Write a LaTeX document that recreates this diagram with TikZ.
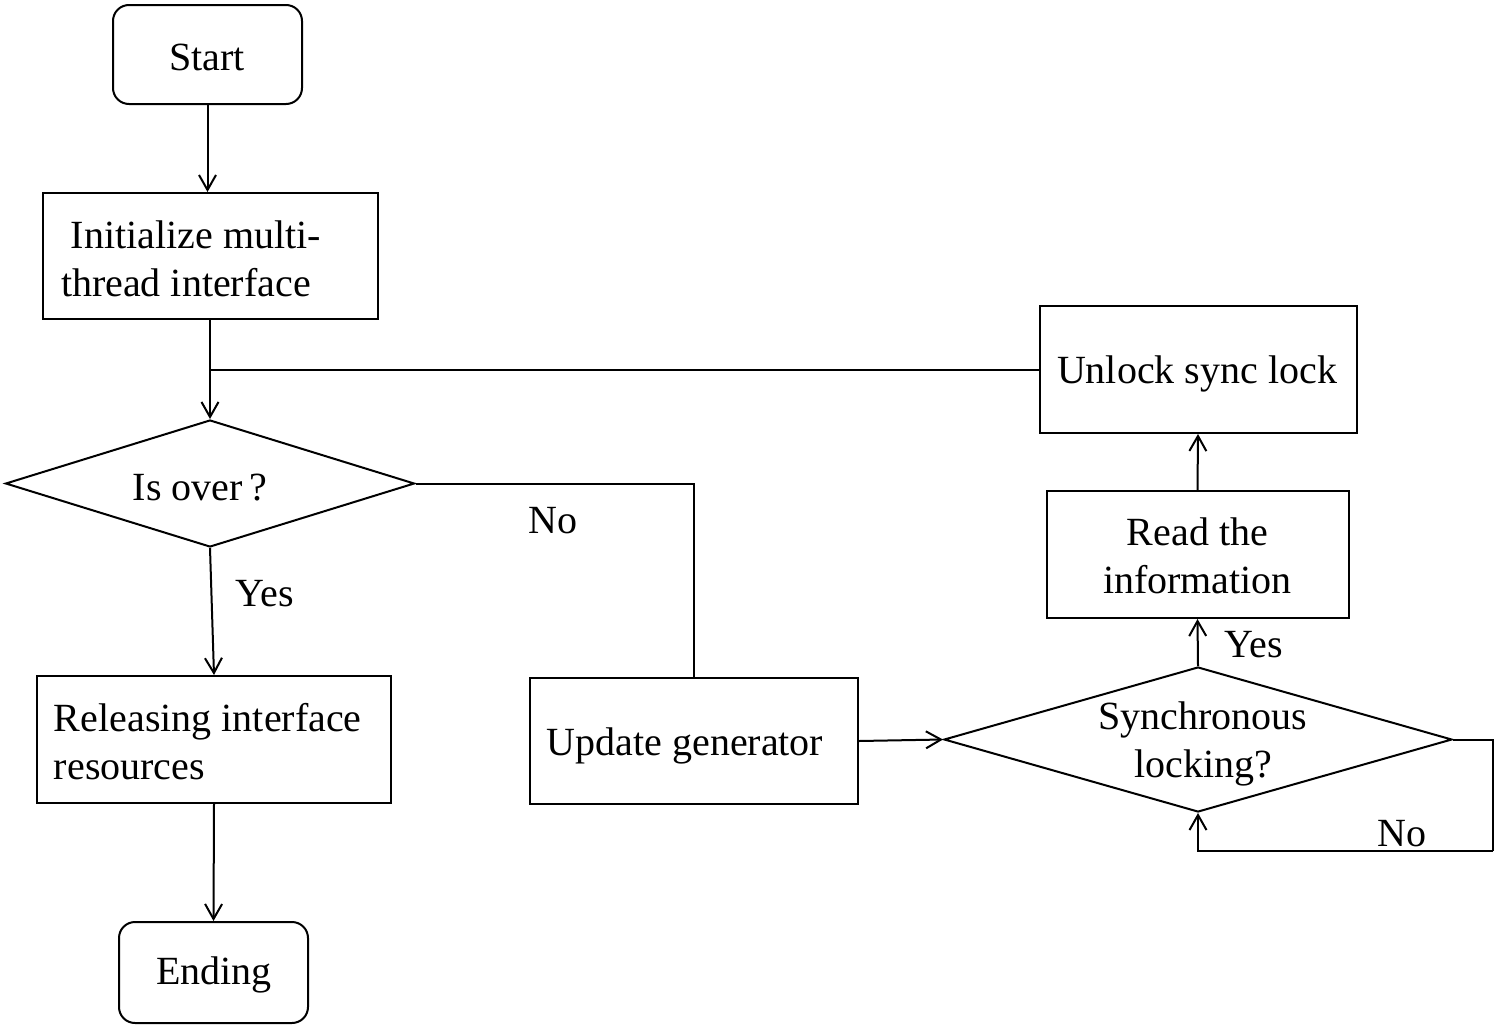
\documentclass[tikz,border=0pt]{standalone}
\usepackage{fontspec}
\setmainfont{Liberation Serif}
\usetikzlibrary{shapes.geometric,arrows.meta}
\begin{document}
\begin{tikzpicture}[x=0.5pt,y=-0.5pt,
  line width=1pt,
  every node/.style={font=\fontsize{20pt}{24pt}\selectfont},
  box/.style={draw, rectangle, inner sep=0pt},
  term/.style={draw, rectangle, rounded corners=8pt, inner sep=0pt},
  dec/.style={draw, diamond, inner sep=0pt},
  txt/.style={inner sep=0pt},
  arr/.style={-{Straight Barb[length=7.5pt,width=8.5pt]}},
]
\useasboundingbox (0,0) rectangle (1498,1028);

% boxes
\node[term, minimum width=94.5pt, minimum height=49.5pt] (start) at (207.5,54.5) {};
\node[txt] (startT) at (207,57) {Start};
\node[box, minimum width=167.5pt, minimum height=63pt] (init) at (210,256) {};
\node[txt, anchor=west, align=left] (initT) at (60,258.5) {\hspace*{5pt}Initialize multi-\\thread interface};
\node[dec, minimum width=204.5pt, minimum height=63.5pt] (isover) at (210,483.5) {};
\node[txt] (isoverT) at (200,488) {Is over\,?};
\node[box, minimum width=177pt, minimum height=63.5pt] (release) at (214,739.5) {};
\node[txt, anchor=west, align=left] (releaseT) at (53,742) {Releasing interface\\resources};
\node[term, minimum width=94.5pt, minimum height=50.5pt] (ending) at (213.5,972.5) {};
\node[txt] (endingT) at (214,975) {Ending};
\node[box, minimum width=164pt, minimum height=63pt] (update) at (694,741) {};
\node[txt] (updateT) at (685,746) {Update generator};
\node[dec, minimum width=254pt, minimum height=72.5pt] (sync) at (1198,739.5) {};
\node[txt, align=center] (syncT) at (1203,743.5) {Synchronous\\locking?};
\node[box, minimum width=151pt, minimum height=63.5pt] (read) at (1197.5,554.5) {};
\node[txt, align=center] (readT) at (1197.5,555.5) {Read the\\information};
\node[box, minimum width=158.5pt, minimum height=63.5pt] (unlock) at (1198,369.5) {};
\node[txt] (unlockT) at (1197,374) {Unlock sync lock};

% labels
\node[txt] (yes1) at (265,594) {Yes};
\node[txt] (no1) at (553,521) {No};
\node[txt] (yes2) at (1254,645) {Yes};
\node[txt] (no2) at (1402,834) {No};

\coordinate (loopc) at (1493,851);

% connectors
\draw[arr] (start.south) -- (start.south |- init.north);
\draw[arr] (init.south) -- (isover.north);
\draw (unlock.west) -- (init.south |- unlock.west);
\draw (isover.east) -| (update.north);
\draw[arr] (isover.south) -- (release.north);
\draw[arr] (release.south) -- (ending.north);
\draw[arr] (update.east) -- (sync.west);
\draw[arr] (sync.north) -- (read.south);
\draw[arr] (read.north) -- (unlock.south);
\draw (sync.east) -| (loopc);
\draw[arr] (loopc) -| (sync.south);
\end{tikzpicture}
\end{document}
